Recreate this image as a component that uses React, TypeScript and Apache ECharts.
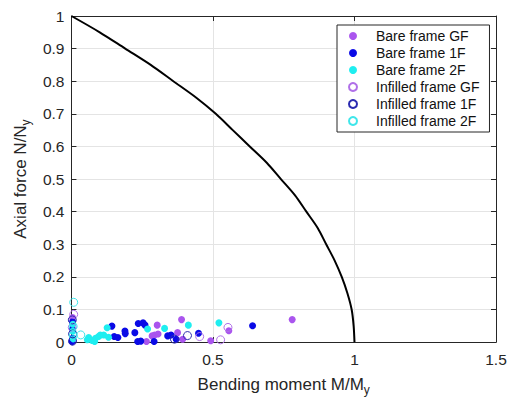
import React, { useEffect, useRef } from "react";
import * as echarts from "echarts";

const FONT = "'Liberation Sans', Arial, Helvetica, sans-serif";

// Interaction curve
const curveM = [0, 0.1, 0.19, 0.28, 0.36, 0.44, 0.51, 0.57, 0.63, 0.69, 0.74, 0.79, 0.83, 0.87, 0.9, 0.93, 0.955, 0.975, 0.99, 0.997, 1];
const curveN = [1, 0.95, 0.9, 0.85, 0.8, 0.75, 0.7, 0.65, 0.6, 0.55, 0.5, 0.45, 0.4, 0.35, 0.3, 0.25, 0.2, 0.15, 0.1, 0.05, 0];

const bareGF: number[][] = [
  [0.004, 0.075], [0.003, 0.006], [0.265, 0.002], [0.294, 0.022], [0.306, 0.025], [0.303, 0.052],
  [0.375, 0.029], [0.393, 0.009], [0.389, 0.069], [0.492, 0.004], [0.556, 0.035], [0.78, 0.069], [0.285, 0.019],
];
const bare1F: number[][] = [
  [0.004, 0.062], [0.003, 0.04], [0.004, 0.012], [0.002, 0.001], [0.143, 0.049], [0.151, 0.017],
  [0.164, 0.014], [0.189, 0.034], [0.19, 0.026], [0.224, 0.029], [0.236, 0.057], [0.253, 0.059],
  [0.26, 0.052], [0.234, 0.002], [0.245, 0.003], [0.292, 0.002], [0.34, 0.019], [0.352, 0.022],
  [0.37, 0.009], [0.449, 0.027], [0.64, 0.05],
];
const bare2F: number[][] = [
  [0.005, 0.055], [0.005, 0.033], [0.006, 0.01], [0.056, 0.007], [0.061, 0.014], [0.073, 0.005],
  [0.082, 0.002], [0.085, 0.012], [0.096, 0.017], [0.102, 0.022], [0.114, 0.022], [0.126, 0.044],
  [0.131, 0.015], [0.269, 0.04], [0.329, 0.042], [0.413, 0.052], [0.521, 0.059],
];
const infGF: number[][] = [[0.008, 0.085], [0.003, 0.045], [0.453, 0.017], [0.527, 0.007], [0.553, 0.045]];
const inf1F: number[][] = [[0.003, 0.068], [0.004, 0.025], [0.004, 0.003], [0.364, 0.009], [0.41, 0.02]];
const inf2F: number[][] = [[0.008, 0.122], [0.006, 0.048], [0.006, 0.02], [0.033, 0.022]];

const seriesNames = [
  "Bare frame GF", "Bare frame 1F", "Bare frame 2F",
  "Infilled frame GF", "Infilled frame 1F", "Infilled frame 2F",
];

const AX = "#262626";
const GRID = "#e4e4e4";

function filled(name: string, data: number[][], color: string) {
  return {
    type: "scatter", name, data, symbol: "circle", symbolSize: 7,
    itemStyle: { color, opacity: 1 },
  };
}
function open(name: string, data: number[][], color: string) {
  return {
    type: "scatter", name, data, symbol: "circle", symbolSize: 8,
    itemStyle: { color: "rgba(255,255,255,0)", borderColor: color, borderWidth: 1, opacity: 1 },
  };
}

export default function App() {
  const ref = useRef<HTMLDivElement>(null);
  useEffect(() => {
    const chart = echarts.init(ref.current!, null, { renderer: "svg" });
    const axisCommon = {
      type: "value" as const,
      axisLine: { show: true, onZero: false, lineStyle: { color: AX, width: 1 } },
      axisTick: { show: true, inside: true, length: 5, lineStyle: { color: AX } },
    };
    const nameStyle = {
      fontSize: 17, color: AX, fontFamily: FONT,
      rich: { sub: { fontSize: 12, fontFamily: FONT, color: AX, lineHeight: 12, padding: [12, 0, 0, 0] } },
    };
    chart.setOption({
      animation: false,
      backgroundColor: "#ffffff",
      grid: { left: 66, right: 14, top: 16, bottom: 54, containLabel: false },
      xAxis: [
        {
          ...axisCommon, min: 0, max: 1.5, interval: 0.5, position: "bottom",
          axisLabel: { fontSize: 15.5, color: AX, fontFamily: FONT, margin: 9 },
          splitLine: { show: true, lineStyle: { color: GRID, width: 1 } },
          name: "Bending moment M/M{sub|y}", nameLocation: "middle", nameGap: 27,
          nameTextStyle: nameStyle,
        },
        {
          ...axisCommon, min: 0, max: 1.5, interval: 0.5, position: "top",
          axisLabel: { show: false }, splitLine: { show: false },
        },
      ],
      yAxis: [
        {
          ...axisCommon, min: 0, max: 1, interval: 0.1, position: "left",
          axisLabel: { fontSize: 15.5, color: AX, fontFamily: FONT, margin: 7 },
          splitLine: { show: true, lineStyle: { color: GRID, width: 1 } },
          name: "Axial force N/N{sub|y}", nameLocation: "middle", nameGap: 36,
          nameTextStyle: nameStyle,
        },
        {
          ...axisCommon, min: 0, max: 1, interval: 0.1, position: "right",
          axisLabel: { show: false }, splitLine: { show: false },
        },
      ],
      legend: {
        data: seriesNames,
        orient: "vertical",
        left: 337, top: 25,
        padding: [4, 10, 4, 11],
        itemWidth: 8, itemHeight: 8, itemGap: 3,
        icon: "circle",
        backgroundColor: "#ffffff",
        borderColor: AX, borderWidth: 1, borderRadius: 0,
        textStyle: { fontSize: 14, color: "#111", fontFamily: FONT, lineHeight: 14, padding: [0, 0, 0, 14] },
      },
      series: [
        {
          type: "line", name: "curve", data: curveM.map((m, i) => [m, curveN[i]]),
          showSymbol: false, symbol: "none", smooth: 0.3,
          lineStyle: { color: "#000", width: 2 }, z: 1,
        },
        filled(seriesNames[0], bareGF, "#aa55ee"),
        filled(seriesNames[1], bare1F, "#0a0ae6"),
        filled(seriesNames[2], bare2F, "#1eeef0"),
        open(seriesNames[3], infGF, "#b070e8"),
        open(seriesNames[4], inf1F, "#2a2ab0"),
        open(seriesNames[5], inf2F, "#40e6ea"),
      ],
    });
    return () => chart.dispose();
  }, []);
  return <div ref={ref} style={{ position: "fixed", left: 0, top: 0, width: 510, height: 401 }} />;
}
